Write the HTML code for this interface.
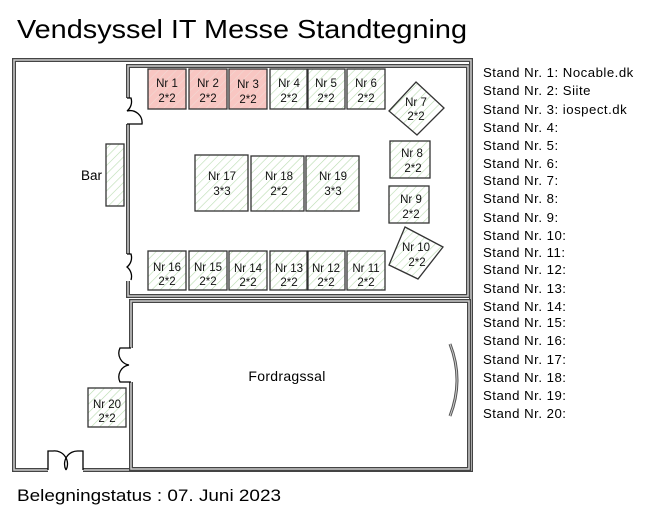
<!DOCTYPE html>
<html><head><meta charset="utf-8"><style>
body{margin:0;background:#fff}
svg{display:block}
text{font-family:"Liberation Sans",sans-serif}
</style></head><body>
<svg width="645" height="519" viewBox="0 0 645 519" xmlns="http://www.w3.org/2000/svg">
<defs>
<pattern id="h" width="6" height="6" patternUnits="userSpaceOnUse" patternTransform="rotate(45)">
<rect width="6" height="6" fill="#fff"/><line x1="0" y1="0" x2="0" y2="6" stroke="#b9dcb0" stroke-width="1.2"/></pattern>
<pattern id="hr" width="6" height="6" patternUnits="userSpaceOnUse" patternTransform="rotate(45)">
<rect width="6" height="6" fill="#f8c6c2"/><line x1="0" y1="0" x2="0" y2="6" stroke="#f1d9d4" stroke-width="1.2"/></pattern>
</defs>
<text x="17" y="38" font-size="26" textLength="450" lengthAdjust="spacingAndGlyphs">Vendsyssel IT Messe  Standtegning</text>
<g fill="none">
<rect x="14" y="60" width="457" height="410" stroke="#444" stroke-width="4"/>
<rect x="14" y="60" width="457" height="410" stroke="#ccc" stroke-width="1.5"/>
<rect x="128" y="66" width="340" height="230" stroke="#444" stroke-width="4"/>
<rect x="128" y="66" width="340" height="230" stroke="#ccc" stroke-width="1.5"/>
<rect x="131" y="301" width="338" height="168" stroke="#444" stroke-width="4"/>
<rect x="131" y="301" width="338" height="168" stroke="#ccc" stroke-width="1.5"/>
</g>
<rect x="124" y="98" width="8" height="26" fill="#fff"/>
<rect x="124" y="254" width="8" height="27" fill="#fff"/>
<rect x="127" y="348" width="8" height="34" fill="#fff"/>
<rect x="48" y="466" width="35" height="8" fill="#fff"/>
<g fill="none" stroke="#000" stroke-width="1.3">
<path d="M127 98 H131 A12 12 0 0 1 127 111 A12 12 0 0 1 142 124 H127"/>
<path d="M127 254 H131 A12 12 0 0 1 127 267 A12 12 0 0 1 131 280"/>
<path d="M131 348 H120 A12 12 0 0 0 129 365 A12 12 0 0 0 120 382 H131"/>
<path d="M48 470 V451 H53 A13 13 0 0 1 66 470 M83 470 V451 H78 A13 13 0 0 0 66 470"/>
</g>
<path d="M450 344 Q464 380 450 416" fill="none" stroke="#555" stroke-width="3"/>
<path d="M450 344 Q464 380 450 416" fill="none" stroke="#ccc" stroke-width="1"/>
<g stroke="#333" stroke-width="1.3">
<rect x="106" y="144" width="18" height="62" fill="url(#h)"/>
<rect x="148" y="69" width="38" height="40" fill="url(#hr)"/>
<rect x="189" y="69" width="38" height="40" fill="url(#hr)"/>
<rect x="229" y="69" width="38" height="40" fill="url(#hr)"/>
<rect x="270" y="69" width="37" height="40" fill="url(#h)"/>
<rect x="308" y="69" width="37" height="40" fill="url(#h)"/>
<rect x="347" y="69" width="38" height="40" fill="url(#h)"/>
<rect x="148" y="251" width="38" height="39" fill="url(#h)"/>
<rect x="189" y="251" width="38" height="39" fill="url(#h)"/>
<rect x="229" y="251" width="38" height="39" fill="url(#h)"/>
<rect x="270" y="251" width="37" height="39" fill="url(#h)"/>
<rect x="308" y="251" width="37" height="39" fill="url(#h)"/>
<rect x="347" y="251" width="38" height="39" fill="url(#h)"/>
<rect x="195" y="155" width="53" height="56" fill="url(#h)"/>
<rect x="251" y="156" width="53" height="55" fill="url(#h)"/>
<rect x="306" y="156" width="53" height="55" fill="url(#h)"/>
<polygon points="416,82 444,108 417,135 389,111" fill="url(#h)"/>
<rect x="390" y="141" width="40" height="37" fill="url(#h)"/>
<rect x="389" y="186" width="40" height="37" fill="url(#h)"/>
<polygon points="405,227 443,247 418,279 389,265" fill="url(#h)"/>
<rect x="88" y="388" width="38" height="39" fill="url(#h)"/>
</g>
<g font-size="11.5" text-anchor="middle" fill="#111">
<text x="167" y="87">Nr 1</text><text x="167" y="102">2*2</text>
<text x="208" y="87">Nr 2</text><text x="208" y="102">2*2</text>
<text x="248" y="88">Nr 3</text><text x="248" y="103">2*2</text>
<text x="289" y="87">Nr 4</text><text x="289" y="102">2*2</text>
<text x="326" y="87">Nr 5</text><text x="326" y="102">2*2</text>
<text x="366" y="87">Nr 6</text><text x="366" y="102">2*2</text>
<text x="416" y="106">Nr 7</text><text x="416" y="120">2*2</text>
<text x="412" y="157">Nr 8</text><text x="413" y="172">2*2</text>
<text x="411" y="203">Nr 9</text><text x="411" y="218">2*2</text>
<text x="416" y="251">Nr 10</text><text x="417" y="266">2*2</text>
<text x="167" y="271">Nr 16</text><text x="167" y="285">2*2</text>
<text x="208" y="271">Nr 15</text><text x="208" y="285">2*2</text>
<text x="248" y="272">Nr 14</text><text x="248" y="286">2*2</text>
<text x="289" y="272">Nr 13</text><text x="289" y="286">2*2</text>
<text x="326" y="272">Nr 12</text><text x="326" y="286">2*2</text>
<text x="366" y="272">Nr 11</text><text x="366" y="286">2*2</text>
<text x="222" y="180">Nr 17</text><text x="222" y="195">3*3</text>
<text x="279" y="180">Nr 18</text><text x="279" y="195">2*2</text>
<text x="333" y="180">Nr 19</text><text x="333" y="195">3*3</text>
<text x="107" y="408">Nr 20</text><text x="107" y="422">2*2</text>
</g>
<text x="81" y="180" font-size="13.5">Bar</text>
<text x="287" y="381" font-size="14" text-anchor="middle" letter-spacing="0.3">Fordragssal</text>
<g font-size="13.2" fill="#000" letter-spacing="0.5">
<text x="483" y="77">Stand Nr. 1: Nocable.dk</text>
<text x="483" y="95">Stand Nr. 2: Siite</text>
<text x="483" y="114">Stand Nr. 3: iospect.dk</text>
<text x="483" y="132">Stand Nr. 4:</text>
<text x="483" y="150">Stand Nr. 5:</text>
<text x="483" y="168">Stand Nr. 6:</text>
<text x="483" y="185">Stand Nr. 7:</text>
<text x="483" y="203">Stand Nr. 8:</text>
<text x="483" y="222">Stand Nr. 9:</text>
<text x="483" y="240">Stand Nr. 10:</text>
<text x="483" y="257">Stand Nr. 11:</text>
<text x="483" y="274">Stand Nr. 12:</text>
<text x="483" y="293">Stand Nr. 13:</text>
<text x="483" y="311">Stand Nr. 14:</text>
<text x="483" y="327">Stand Nr. 15:</text>
<text x="483" y="345">Stand Nr. 16:</text>
<text x="483" y="364">Stand Nr. 17:</text>
<text x="483" y="382">Stand Nr. 18:</text>
<text x="483" y="400">Stand Nr. 19:</text>
<text x="483" y="418">Stand Nr. 20:</text>
</g>
<text x="17" y="501" font-size="16.5" textLength="264" lengthAdjust="spacingAndGlyphs">Belegningstatus : 07. Juni 2023</text>
</svg>
</body></html>
